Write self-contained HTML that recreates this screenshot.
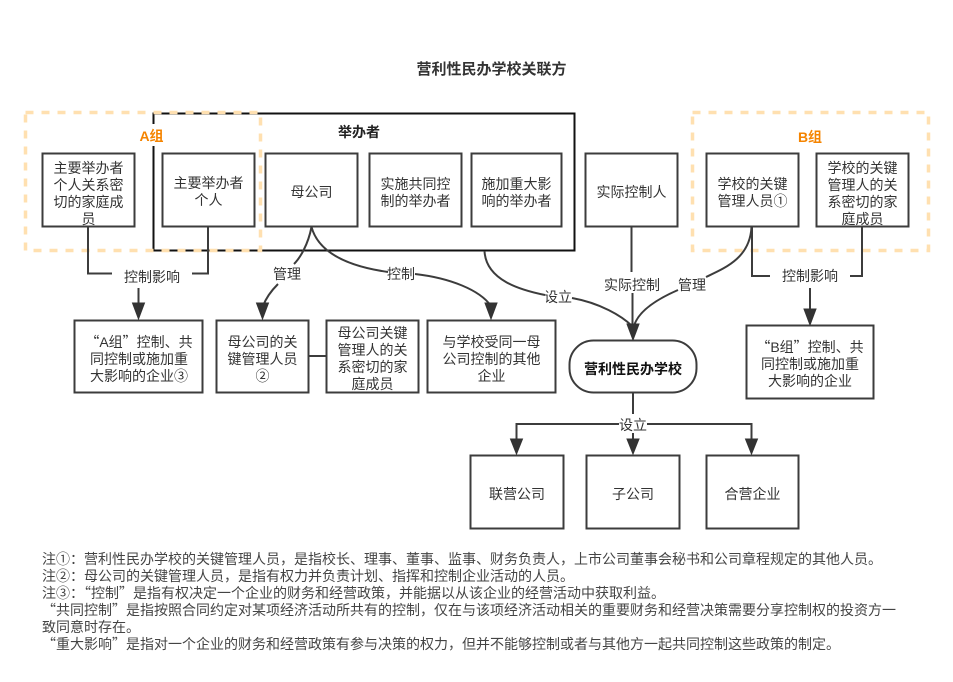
<!DOCTYPE html>
<html><head><meta charset="utf-8">
<style>
html,body{margin:0;padding:0;background:#fff;width:953px;height:682px;overflow:hidden}
svg{display:block}
text{font-family:"Liberation Sans","Noto Sans CJK SC",sans-serif;font-size:14px;fill:#333;text-anchor:middle}
tspan.q{font-family:"Noto Sans CJK SC",sans-serif}
.b{fill:#fff;stroke:#3c3c3c;stroke-width:2}
.l{fill:none;stroke:#3c3c3c;stroke-width:2}
.h{fill:#333;stroke:#333;stroke-width:1}
.d{fill:none;stroke:#ffe0b0;stroke-width:3.5;stroke-dasharray:8 8}
.bg{fill:#fff;stroke:none}
.n{text-anchor:start;font-size:14px;fill:#444}
.o{font-weight:bold;fill:#f58400;font-size:14px}
.t{font-weight:bold;font-size:14px}
</style></head><body>
<svg width="953" height="682" viewBox="0 0 953 682" xmlns="http://www.w3.org/2000/svg">
<text class="t" x="491.500" y="74" style="font-size:15px">营利性民办学校关联方</text>

<rect x="153.500" y="113.500" width="421" height="137" fill="none" stroke="#111" stroke-width="2"/>
<rect x="25.500" y="112.500" width="235" height="138" class="d"/>
<rect x="692.500" y="112.500" width="236" height="138" class="d"/>
<rect x="138" y="124" width="28" height="22" class="bg"/>
<text class="o" x="151.500" y="141">A组</text>
<text class="o" x="810" y="142">B组</text>
<text class="t" x="359" y="137" style="fill:#222">举办者</text>

<!-- connectors -->
<path class="l" d="M88 227V273.500H112M208 227V273.500H192"/>
<path class="l" d="M138.500 288V306"/>
<path class="h" d="M132.500 303H144.500L138.500 319Z"/>
<path class="l" d="M311.500 227C308 245 300 258 294 264M278 284C272 290 266 298 263 306"/>
<path class="h" d="M256.500 303H268.500L262.500 319Z"/>
<path class="l" d="M311.500 227C320 258 360 268 388 272M415 274C450 278 480 290 491 306"/>
<path class="h" d="M485 303H497L491 319Z"/>
<path class="l" d="M484.500 251C486 280 520 290 545 295M572 298C600 303 622 316 632 326"/>
<path class="l" d="M631.500 227V272M632.500 293V326"/>
<path class="l" d="M751.500 227C750 258 725 268 706 277M678 290C655 300 638 312 634 326"/>
<path class="h" d="M627 324H639L633 340Z"/>
<path class="l" d="M752 227V276H770M862 227V276H850"/>
<path class="l" d="M810 288V311"/>
<path class="h" d="M804 309H816L810 325Z"/>
<path class="l" d="M633 393V414M633 433V440M516.500 440V424H619M647 424H751.500V440"/>
<path class="h" d="M510.500 439H522.500L516.500 454Z"/>
<path class="h" d="M627 439H639L633 454Z"/>
<path class="h" d="M745.500 439H757.500L751.500 454Z"/>
<path class="l" d="M309 356H326"/>

<!-- top row -->
<rect class="b" x="42.500" y="153.500" width="92" height="73"/>
<rect class="b" x="162.500" y="153.500" width="92" height="73"/>
<rect class="b" x="265.500" y="153.500" width="92" height="73"/>
<rect class="b" x="369.500" y="153.500" width="92" height="73"/>
<rect class="b" x="471.500" y="153.500" width="90" height="73"/>
<rect class="b" x="585.500" y="153.500" width="92" height="73"/>
<rect class="b" x="706.500" y="153.500" width="92" height="73"/>
<rect class="b" x="816.500" y="153.500" width="92" height="73"/>
<text x="88.500" y="173">主要举办者</text>
<text x="88.500" y="190">个人关系密</text>
<text x="88.500" y="207">切的家庭成</text>
<text x="88.500" y="224">员</text>
<text x="208.500" y="188">主要举办者</text>
<text x="208.500" y="205">个人</text>
<text x="311.500" y="197">母公司</text>
<text x="415.500" y="189">实施共同控</text>
<text x="415.500" y="206">制的举办者</text>
<text x="516.500" y="189">施加重大影</text>
<text x="516.500" y="206">响的举办者</text>
<text x="631.500" y="197">实际控制人</text>
<text x="752.500" y="189">学校的关键</text>
<text x="752.500" y="206">管理人员①</text>
<text x="862.500" y="173">学校的关键</text>
<text x="862.500" y="190">管理人的关</text>
<text x="862.500" y="207">系密切的家</text>
<text x="862.500" y="224">庭成员</text>

<!-- connector labels -->
<text x="152" y="282">控制影响</text>
<text x="287" y="279">管理</text>
<text x="401" y="279">控制</text>
<text x="558" y="302">设立</text>
<text x="632" y="290">实际控制</text>
<text x="692" y="290">管理</text>
<text x="810" y="281">控制影响</text>
<text x="633" y="430">设立</text>

<!-- middle row -->
<rect class="b" x="74.500" y="320.500" width="128" height="72"/>
<rect class="b" x="216.500" y="320.500" width="92" height="72"/>
<rect class="b" x="326.500" y="320.500" width="92" height="72"/>
<rect class="b" x="427.500" y="320.500" width="128" height="72"/>
<rect class="b" x="569.500" y="340.500" width="127" height="52" rx="24" ry="24"/>
<rect class="b" x="746.500" y="325.500" width="127" height="73"/>
<text x="139" y="347"><tspan class="q">“</tspan>A组<tspan class="q">”</tspan>控制、共</text>
<text x="139" y="364">同控制或施加重</text>
<text x="139" y="381">大影响的企业③</text>
<text x="262.500" y="347">母公司的关</text>
<text x="262.500" y="364">键管理人员</text>
<text x="262.500" y="381">②</text>
<text x="372.500" y="338">母公司关键</text>
<text x="372.500" y="355">管理人的关</text>
<text x="372.500" y="372">系密切的家</text>
<text x="372.500" y="389">庭成员</text>
<text x="491.500" y="347">与学校受同一母</text>
<text x="491.500" y="364">公司控制的其他</text>
<text x="491.500" y="381">企业</text>
<text class="t" x="633" y="374" style="fill:#111">营利性民办学校</text>
<text x="810" y="352"><tspan class="q">“</tspan>B组<tspan class="q">”</tspan>控制、共</text>
<text x="810" y="369">同控制或施加重</text>
<text x="810" y="386">大影响的企业</text>

<!-- bottom row -->
<rect class="b" x="470.500" y="455.500" width="93" height="73"/>
<rect class="b" x="586.500" y="455.500" width="93" height="73"/>
<rect class="b" x="706.500" y="455.500" width="92" height="73"/>
<text x="517" y="499">联营公司</text>
<text x="633" y="499">子公司</text>
<text x="752.500" y="499">合营企业</text>

<!-- notes -->
<text class="n" x="42" y="564">注①：营利性民办学校的关键管理人员，是指校长、理事、董事、监事、财务负责人，上市公司董事会秘书和公司章程规定的其他人员。</text>
<text class="n" x="42" y="581">注②：母公司的关键管理人员，是指有权力并负责计划、指挥和控制企业活动的人员。</text>
<text class="n" x="42" y="598">注③：<tspan class="q">“</tspan>控制<tspan class="q">”</tspan>是指有权决定一个企业的财务和经营政策，并能据以从该企业的经营活动中获取利益。</text>
<text class="n" x="42" y="615"><tspan class="q">“</tspan>共同控制<tspan class="q">”</tspan>是指按照合同约定对某项经济活动所共有的控制，仅在与该项经济活动相关的重要财务和经营决策需要分享控制权的投资方一</text>
<text class="n" x="42" y="632">致同意时存在。</text>
<text class="n" x="42" y="649"><tspan class="q">“</tspan>重大影响<tspan class="q">”</tspan>是指对一个企业的财务和经营政策有参与决策的权力，但并不能够控制或者与其他方一起共同控制这些政策的制定。</text>
</svg>
</body></html>
